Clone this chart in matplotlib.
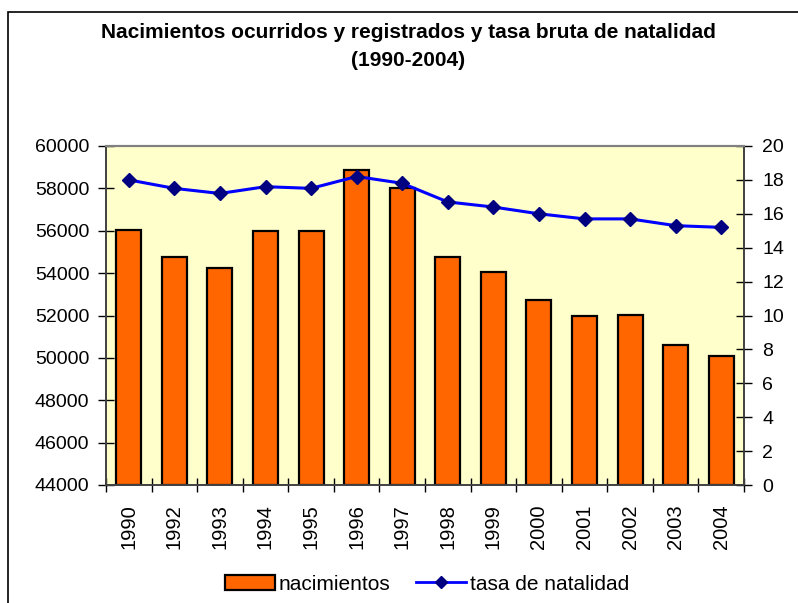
import matplotlib.pyplot as plt
import matplotlib.patches as mpatches
from matplotlib.lines import Line2D
import numpy as np

plt.rcParams['font.family'] = ['Liberation Sans', 'DejaVu Sans']

years = ['1990', '1992', '1993', '1994', '1995', '1996', '1997',
         '1998', '1999', '2000', '2001', '2002', '2003', '2004']
nacimientos = [56020, 54780, 54230, 55970, 56010, 58870, 58040,
               54780, 54040, 52740, 51990, 52030, 50620, 50070]
tasa = [18.0, 17.5, 17.2, 17.6, 17.5, 18.2, 17.8,
        16.7, 16.4, 16.0, 15.7, 15.7, 15.3, 15.2]

W, H = 798, 603
fig = plt.figure(figsize=(W / 100, H / 100), dpi=100)

# outer chart frame (cut off at right and bottom like the original)
frame = mpatches.Rectangle((8 / W, -0.05), 1.2, 1 - 12 / H + 0.05,
                           transform=fig.transFigure, fill=False,
                           edgecolor='black', linewidth=1.2)
fig.patches.append(frame)

ax = fig.add_axes([106 / W, 1 - 485 / H, (744 - 106) / W, (485 - 146) / H])
ax.set_facecolor('#FFFFCC')

x = np.arange(len(years))
ax.bar(x, [n - 44000 for n in nacimientos], bottom=44000, width=0.55,
       color='#FF6600', edgecolor='black', linewidth=1.6, zorder=2)
ax.set_ylim(44000, 60000)
ax.set_xlim(-0.5, len(years) - 0.5)
ax.set_yticks(range(44000, 60001, 2000))
ax.set_xticks(x)
ax.set_xticklabels(years, rotation=90)
ax.set_xticks(np.arange(-0.5, len(years), 1), minor=True)
ax.tick_params(axis='x', which='major', length=0, labelsize=14.5, pad=14)
ax.tick_params(axis='x', which='minor', direction='inout', length=10, width=1)
ax.tick_params(axis='y', direction='inout', length=12, width=1,
               labelsize=14, pad=6)

ax2 = ax.twinx()
ax2.plot(x, tasa, color='#0000FF', linewidth=2.2, marker='D',
         markersize=7.5, markerfacecolor='#000080',
         markeredgecolor='#000080', zorder=3)
ax2.set_ylim(0, 20)
ax2.set_yticks(range(0, 21, 2))
ax2.tick_params(axis='y', direction='inout', length=12, width=1,
                labelsize=14, pad=7)

for a in (ax, ax2):
    a.spines['top'].set_color('#808080')
    a.spines['top'].set_linewidth(1.5)
    for side in ('left', 'right', 'bottom'):
        a.spines[side].set_color('#404040')
        a.spines[side].set_linewidth(1.2)

fig.text(408 / W, 1 - 32 / H,
         'Nacimientos ocurridos y registrados y tasa bruta de natalidad',
         ha='center', va='center', fontsize=15, fontweight='bold')
fig.text(408 / W, 1 - 60 / H, '(1990-2004)',
         ha='center', va='center', fontsize=15, fontweight='bold')

handles = [mpatches.Patch(facecolor='#FF6600', edgecolor='black', linewidth=1.6),
           Line2D([0], [0], color='#0000FF', linewidth=2, marker='D',
                  markersize=6, markerfacecolor='#000080',
                  markeredgecolor='#000080')]
fig.legend(handles, ['nacimientos', 'tasa de natalidad'],
           loc='center', bbox_to_anchor=(427 / W, 1 - 584 / H), ncol=2,
           frameon=False, fontsize=15, handlelength=2.4, handleheight=0.7,
           handletextpad=0.2, columnspacing=1.2)

fig.savefig('out.png', dpi=100)
